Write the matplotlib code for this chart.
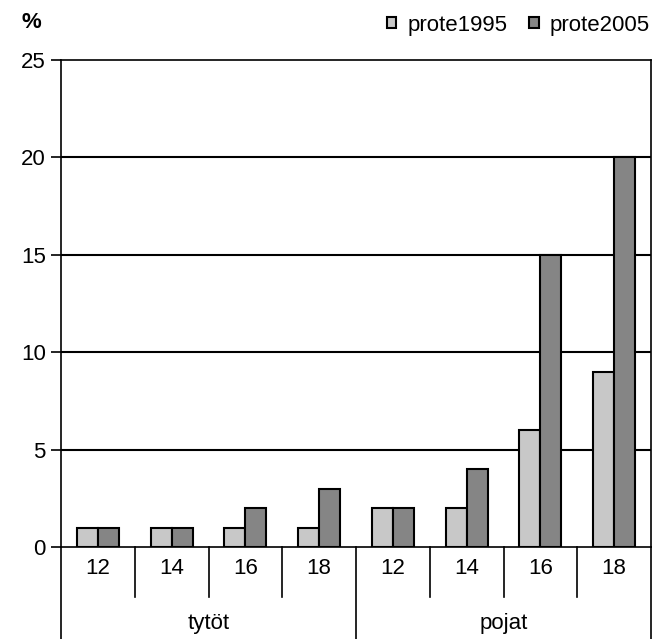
import matplotlib
matplotlib.use("Agg")
import matplotlib.pyplot as plt
import numpy as np

# data
groups = ["tytöt", "pojat"]
ages = ["12", "14", "16", "18", "12", "14", "16", "18"]
prote1995 = [1, 1, 1, 1, 2, 2, 6, 9]
prote2005 = [1, 1, 2, 3, 2, 4, 15, 20]

plt.rcParams['font.family'] = ['Liberation Sans', 'DejaVu Sans']
FS = 16

fig = plt.figure(figsize=(6.62, 6.39), dpi=100)
ax = fig.add_axes([61 / 662, 92 / 639, 590 / 662, 487 / 639])

x = np.arange(len(ages)) + 0.5
w = 0.285
ax.bar(x - w / 2, prote1995, w, color="#c8c8c8", edgecolor="black", linewidth=1.5,
       label="prote1995", zorder=3)
ax.bar(x + w / 2, prote2005, w, color="#858585", edgecolor="black", linewidth=1.5,
       label="prote2005", zorder=3)

ax.set_xlim(0, len(ages))
ax.set_ylim(0, 25)
ax.set_yticks([0, 5, 10, 15, 20, 25])
for y in [5, 10, 15, 20]:
    ax.axhline(y, color="black", linewidth=1.5, zorder=1)
ax.tick_params(axis="y", direction="out", length=7, width=1.2, labelsize=FS, pad=4)
ax.set_xticks([])
for s in ax.spines.values():
    s.set_linewidth(1.2)

# category axis: age labels and group labels with separator lines
tr = ax.get_xaxis_transform()
for i, a in enumerate(ages):
    ax.text(i + 0.5, -21 / 487, a, transform=tr, ha="center", va="center", fontsize=FS)
for i in range(1, len(ages)):
    if i == 4:
        continue
    ax.plot([i, i], [0, -50 / 487], transform=tr, color="black", linewidth=1.2, clip_on=False)
for i in [0, 4, 8]:
    ax.plot([i, i], [0, -95 / 487], transform=tr, color="black", linewidth=1.2, clip_on=False)
for j, g in enumerate(groups):
    ax.text(j * 4 + 2, -76 / 487, g, transform=tr, ha="center", va="center", fontsize=FS)

fig.text(22 / 662, 1 - 22 / 639, "%", ha="left", va="center", fontsize=FS, fontweight="bold")
fig.legend(*ax.get_legend_handles_labels(), loc="center right",
           bbox_to_anchor=(650 / 662, 1 - 25 / 639), bbox_transform=fig.transFigure,
           ncol=2, frameon=False, fontsize=FS, handlelength=0.42, handleheight=0.42,
           handletextpad=0.5, columnspacing=1.0, borderaxespad=0, borderpad=0)

fig.savefig("out.png", dpi=100)
